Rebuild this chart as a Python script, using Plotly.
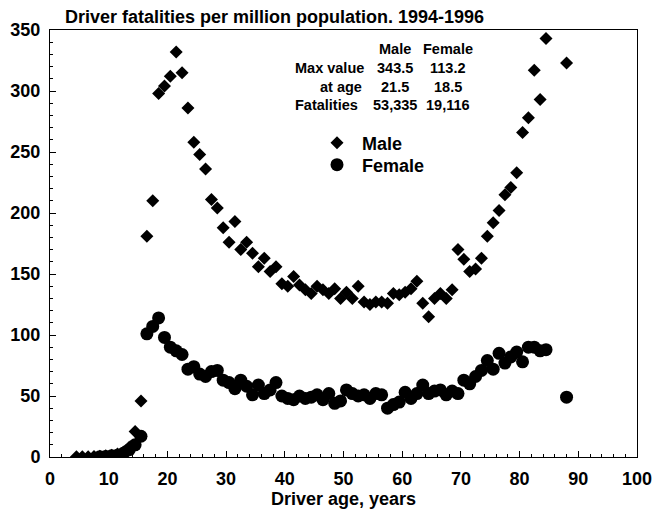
import plotly.graph_objects as go

male_age = [4.5, 5.5, 6.5, 7.5, 8.5, 9.5, 10.5, 11.5, 12.5, 13.5, 14.5, 15.5, 16.5, 17.5,
            18.5, 19.5, 20.5, 21.5, 22.5, 23.5, 24.5, 25.5, 26.5, 27.5, 28.5, 29.5, 30.5,
            31.5, 32.5, 33.5, 34.5, 35.5, 36.5, 37.5, 38.5, 39.5, 40.5, 41.5, 42.5, 43.5,
            44.5, 45.5, 46.5, 47.5, 48.5, 49.5, 50.5, 51.5, 52.5, 53.5, 54.5, 55.5, 56.5,
            57.5, 58.5, 59.5, 60.5, 61.5, 62.5, 63.5, 64.5, 65.5, 66.5, 67.5, 68.5, 69.5,
            70.5, 71.5, 72.5, 73.5, 74.5, 75.5, 76.5, 77.5, 78.5, 79.5, 80.5, 81.5, 82.5,
            83.5, 84.5, 88.0]
male_val = [0.2, 0.3, 0.3, 0.4, 0.6, 1.0, 1.5, 2.5, 4, 8, 21, 46, 181, 210,
            298, 304, 312, 332, 315, 286, 258, 248, 236, 211, 204, 188, 176,
            193, 170, 176, 167, 156, 163, 152, 156, 142, 140, 148, 141, 137,
            134, 140, 137, 134, 138, 130, 135, 130, 140, 127, 125, 127, 127,
            126, 134, 133, 135, 138, 144, 126, 115, 130, 134, 130, 137, 170,
            162, 152, 154, 163, 181, 192, 202, 215, 221, 233, 266, 278, 317,
            293, 343, 323]

female_age = [8.5, 9.5, 10.5, 11.5, 12.5, 13.5, 14.5, 15.5, 16.5, 17.5, 18.5, 19.5,
              20.5, 21.5, 22.5, 23.5, 24.5, 25.5, 26.5, 27.5, 28.5, 29.5, 30.5, 31.5,
              32.5, 33.5, 34.5, 35.5, 36.5, 37.5, 38.5, 39.5, 40.5, 41.5, 42.5, 43.5,
              44.5, 45.5, 46.5, 47.5, 48.5, 49.5, 50.5, 51.5, 52.5, 53.5, 54.5, 55.5,
              56.5, 57.5, 58.5, 59.5, 60.5, 61.5, 62.5, 63.5, 64.5, 65.5, 66.5, 67.5,
              68.5, 69.5, 70.5, 71.5, 72.5, 73.5, 74.5, 75.5, 76.5, 77.5, 78.5, 79.5,
              80.5, 81.5, 82.5, 83.5, 84.5, 88.0]
female_val = [0.3, 0.5, 1, 1.5, 3, 6, 10, 17, 101, 107, 114, 98,
              90, 87, 84, 72, 74, 68, 66, 70, 71, 63, 61, 56,
              63, 58, 51, 59, 52, 55, 61, 50, 48, 47, 50, 48,
              49, 51, 47, 52, 44, 46, 55, 52, 50, 51, 48, 52,
              51, 40, 43, 45, 53, 48, 52, 59, 52, 54, 55, 51,
              54, 52, 63, 60, 66, 71, 79, 72, 85, 77, 82, 86,
              78, 90, 90, 87, 88, 49]

table_rows = ["", "Max value", "at age", "Fatalities"]
table_male = ["Male", "343.5", "21.5", "53,335"]
table_female = ["Female", "113.2", "18.5", "19,116"]

title_text = "Driver fatalities per million population. 1994-1996"
x_title = "Driver age, years"

FONT = "Liberation Sans, Arial, sans-serif"

W, H = 653, 510
PL, PR, PT, PB = 50, 637, 30, 457          # plot area in pixels
L, R, T, B = PL, W - PR, PT, H - PB
pw, ph = PR - PL, PB - PT

def px(xp):
    return (xp - PL) / pw

def py(yp):
    return (PB - yp) / ph

fig = go.Figure()
fig.add_trace(go.Scatter(x=male_age, y=male_val, mode="markers", name="<b>Male</b>",
                         legend="legend",
                         marker=dict(symbol="diamond", size=10, color="black",
                                     line=dict(width=0))))
fig.add_trace(go.Scatter(x=female_age, y=female_val, mode="markers", name="<b>Female</b>",
                         legend="legend2",
                         marker=dict(symbol="circle", size=13, color="black",
                                     line=dict(width=0))))

row_y = [49, 68, 87, 105]
row_label_x = [None, 293, 318, 293]
for i in range(4):
    if table_rows[i]:
        fig.add_annotation(x=px(row_label_x[i]), y=py(row_y[i]), xref="paper", yref="paper",
                           text="<b>%s</b>" % table_rows[i], showarrow=False,
                           xanchor="left", yanchor="middle",
                           font=dict(family=FONT, size=14.5, color="black"))
    fig.add_annotation(x=px(395), y=py(row_y[i]), xref="paper", yref="paper",
                       text="<b>%s</b>" % table_male[i], showarrow=False,
                       xanchor="center", yanchor="middle",
                       font=dict(family=FONT, size=14.5, color="black"))
    fig.add_annotation(x=px(448), y=py(row_y[i]), xref="paper", yref="paper",
                       text="<b>%s</b>" % table_female[i], showarrow=False,
                       xanchor="center", yanchor="middle",
                       font=dict(family=FONT, size=14.5, color="black"))

leg_common = dict(xanchor="left", yanchor="middle", bgcolor="rgba(0,0,0,0)", borderwidth=0,
                  font=dict(family=FONT, size=18, color="black"), itemsizing="trace",
                  itemwidth=40)

fig.update_layout(
    template="none",
    width=W, height=H,
    margin=dict(l=L, r=R, t=T, b=B, pad=0),
    paper_bgcolor="white", plot_bgcolor="white",
    font=dict(family=FONT, size=18, color="black"),
    title=dict(text="<b>%s</b>" % title_text, x=px(65), xref="paper", xanchor="left",
               y=1 - 17 / H, yref="container", yanchor="middle",
               font=dict(family=FONT, size=18, color="black")),
    showlegend=True,
    legend=dict(x=px(312), y=py(143), **leg_common),
    legend2=dict(x=px(312), y=py(165), **leg_common),
    xaxis=dict(range=[0, 100], dtick=10, tick0=0, showgrid=False, zeroline=False,
               automargin=False,
               showline=True, linecolor="black", linewidth=1, mirror=True,
               ticks="inside", ticklen=6, tickcolor="black", tickwidth=1,
               ticklabelstandoff=5,
               minor=dict(dtick=2, ticks="inside", ticklen=3, tickcolor="black"),
               tickfont=dict(family=FONT, size=18, color="black"),
               tickprefix="<b>", ticksuffix="</b>",
               title=dict(text="<b>%s</b>" % x_title, standoff=0,
                          font=dict(family=FONT, size=18, color="black"))),
    yaxis=dict(range=[0, 350], dtick=50, tick0=0, showgrid=False, zeroline=False,
               automargin=False,
               showline=True, linecolor="black", linewidth=1, mirror=True,
               ticks="inside", ticklen=6, tickcolor="black", tickwidth=1,
               ticklabelstandoff=5,
               minor=dict(dtick=10, ticks="inside", ticklen=3, tickcolor="black"),
               tickfont=dict(family=FONT, size=18, color="black"),
               tickprefix="<b>", ticksuffix="</b>"),
)

fig.write_html("out.html",
               config={"displayModeBar": False, "staticPlot": True},
               post_script="document.body.style.margin='0';document.body.style.overflow='hidden';")
